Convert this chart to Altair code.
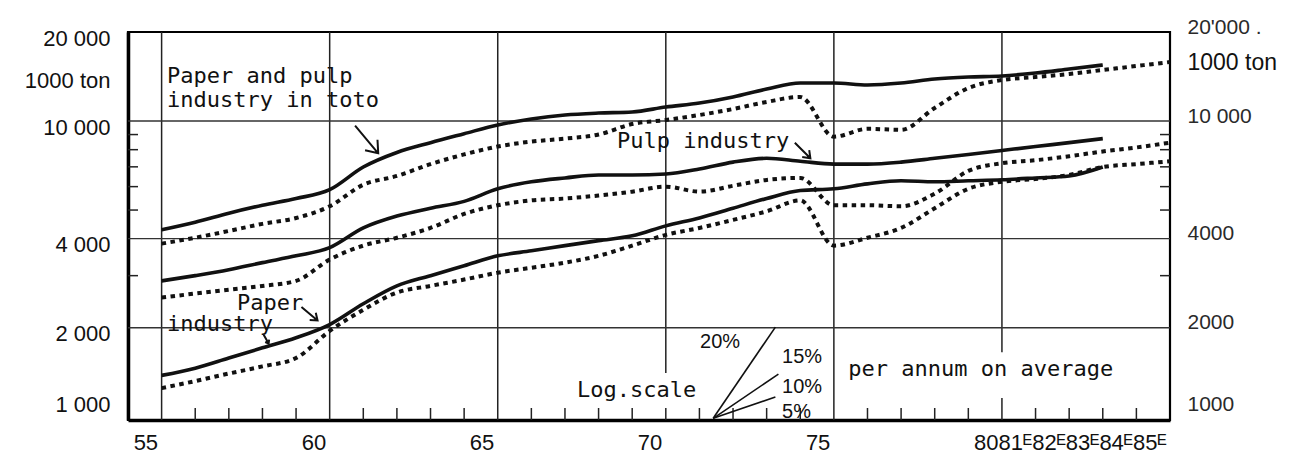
import altair as alt
import pandas as pd

# ---------------- data ----------------
years_full = list(range(55, 86))   # dotted series run 1955-1985E
years_prod = list(range(55, 84))   # solid series run 1955-1983E

total_solid = [4290, 4550, 4880, 5190, 5470, 5860, 6990, 7830, 8450, 9060,
               9700, 10160, 10480, 10640, 10730, 11150, 11500, 12060, 12830, 13440,
               13440, 13240, 13440, 13870, 14090, 14200, 14530, 14990, 15470]
total_dotted = [3850, 4030, 4250, 4490, 4700, 5150, 6090, 6520, 7150, 7710,
                8200, 8520, 8720, 9000, 9770, 10080, 10480, 10980, 11600, 12060,
                8850, 9410, 9340, 11070, 12930, 13760, 14090, 14420, 14880, 15350, 15830]
pulp_solid = [2880, 3000, 3140, 3320, 3500, 3730, 4350, 4770, 5070, 5350,
              5900, 6230, 6420, 6570, 6570, 6620, 6880, 7260, 7480, 7310,
              7150, 7150, 7260, 7480, 7710, 7950, 8200, 8450, 8720]
pulp_dotted = [2530, 2610, 2690, 2770, 2880, 3400, 3790, 4030, 4350, 4850,
               5190, 5390, 5470, 5600, 5770, 6000, 5770, 6040, 6320, 6420,
               5190, 5190, 5150, 5680, 6780, 7200, 7370, 7600, 7890, 8140, 8450]
paper_solid = [1380, 1460, 1580, 1710, 1850, 2050, 2410, 2770, 3000, 3240,
               3500, 3640, 3790, 3940, 4090, 4420, 4700, 5070, 5470, 5820,
               5900, 6130, 6280, 6230, 6280, 6330, 6420, 6520, 6990]
paper_dotted = [1250, 1320, 1400, 1480, 1580, 1950, 2300, 2630, 2770, 2910,
                3070, 3190, 3320, 3500, 3790, 4120, 4350, 4630, 4950, 5390,
                3790, 4030, 4350, 5070, 5900, 6230, 6370, 6570, 6990, 7150, 7310]

x_label_values = [55, 60, 65, 70, 75, 80, 81, 82, 83, 84, 85]
y_label_values = [1000, 2000, 4000, 10000, 20000]
# vertical grid segments (the 70 and 80 lines are broken around the notes)
grid_years = [55, 60, 65, 70, 75, 80, 80]
grid_tops = [20000, 20000, 20000, 20000, 20000, 20000, 1157]
grid_bottoms = [975, 975, 975, 1406, 975, 1652, 975]
grid_values = [2000, 4000, 10000]
minor_years = [56, 57, 58, 59, 61, 62, 63, 64, 66, 67, 68, 69, 70,
               71, 72, 73, 74, 76, 77, 78, 79, 81, 82, 83, 84]
minor_values = [3000, 5000, 6000, 7000, 8000, 9000]

note_texts = ["Paper and pulp", "industry in toto", "Pulp industry",
              "Paper", "industry", "Log.scale", "per annum on average"]
note_years = [55.16, 55.16, 68.55, 57.24, 55.16, 67.36, 75.43]
note_values = [13440, 11160, 8100, 2290, 1950, 1166, 1371]

pct_texts = ["20%", "15%", "10%", "5%"]
pct_years = [71.02, 73.46, 73.46, 73.46]
pct_values = [1707, 1518, 1202, 988]

rate_groups = ["20", "20", "10", "10", "5", "5"]
rate_years = [71.41, 73.26, 71.41, 73.35, 71.41, 73.26]
rate_values = [988, 2010, 988, 1394, 988, 1166]

arrow_years = [61.10, 74.07, 59.40, 58.11]
arrow_values = [8660, 7950, 2230, 1830]

# ---------------- tables ----------------
rows = []
for name, yrs, vals, style in [
    ("total", years_prod, total_solid, "solid"),
    ("pulp", years_prod, pulp_solid, "solid"),
    ("paper", years_prod, paper_solid, "solid"),
    ("total_d", years_full, total_dotted, "dotted"),
    ("pulp_d", years_full, pulp_dotted, "dotted"),
    ("paper_d", years_full, paper_dotted, "dotted"),
]:
    for yr, v in zip(yrs, vals):
        rows.append({"year": yr, "value": v, "series": name, "style": style})
df = pd.DataFrame(rows)

W, H = 1042, 388
xscale = alt.Scale(domain=[54, 85], nice=False, zero=False)
yscale = alt.Scale(type="log", domain=[975, 20000], nice=False)

SANS = "Liberation Sans"
MONO = "DejaVu Sans Mono"


def X(field="year"):
    return alt.X(f"{field}:Q", scale=xscale, axis=None)


def Y(field="value"):
    return alt.Y(f"{field}:Q", scale=yscale, axis=None)


# horizontal grid + left axis
left_axis = alt.Axis(
    orient="left", values=y_label_values,
    labelExpr="replace(format(datum.value, ','), ',', ' ')",
    labelFont=SANS, labelFontSize=22, labelColor="#111", labelPadding=18,
    labelOffset={"condition": {"test": "datum.value == 1000", "value": -12}, "value": 6},
    ticks=False, domain=True, domainColor="black", domainWidth=3.5, grid=False,
    title="1000 ton", titleAngle=0, titleX=-18, titleY=48, titleAlign="right",
    titleBaseline="middle", titleFont=SANS, titleFontSize=22, titleFontWeight="normal",
    titleColor="#111", labelOverlap=False, labelBound=False, labelFlush=False,
)
hgrid = alt.Chart(pd.DataFrame({"v": grid_values})).mark_rule(
    color="#333", strokeWidth=1.3
).encode(y=alt.Y("v:Q", scale=yscale, axis=left_axis))

# right axis (invisible marks)
right_axis = alt.Axis(
    orient="right", values=y_label_values,
    labelExpr="datum.value == 20000 ? \"20'000  .\" : (datum.value == 10000 ? '10 000' : format(datum.value, 'd'))",
    labelFont=SANS, labelFontSize=21, labelColor="#2a2a2a", labelPadding=17,
    labelOffset={"condition": {"test": "datum.value == 1000", "value": -12}, "value": -5},
    ticks=False, domain=False, grid=False,
    title="1000 ton", titleAngle=0, titleX=17, titleY=30, titleAlign="left",
    titleBaseline="middle", titleFont=SANS, titleFontSize=23, titleFontWeight="normal",
    titleColor="#111", labelOverlap=False, labelBound=False, labelFlush=False,
)
right = alt.Chart(pd.DataFrame({"v": y_label_values})).mark_point(opacity=0).encode(
    y=alt.Y("v:Q", scale=yscale, axis=right_axis)
)

# vertical grid + bottom axis
bottom_axis = alt.Axis(
    orient="bottom", values=x_label_values,
    labelExpr="datum.value > 80 ? datum.value + '\u1D31' : '' + datum.value",
    labelFont=SANS, labelFontSize=22, labelColor="#111",
    labelAlign="right", labelBaseline="alphabetic", labelPadding=29, labelOffset=-4,
    ticks=False, domain=True, domainColor="black", domainWidth=3.5, grid=False,
    title=None, labelOverlap=False, labelBound=False, labelFlush=False,
)
vgrid = alt.Chart(pd.DataFrame({"v": grid_years, "top": grid_tops, "bot": grid_bottoms})).mark_rule(
    color="#222", strokeWidth=1.5
).encode(
    x=alt.X("v:Q", scale=xscale, axis=bottom_axis),
    y=Y("top"), y2="bot:Q",
)

xminor = alt.Chart(pd.DataFrame({"v": minor_years})).mark_rule(
    color="#222", strokeWidth=1.5
).encode(x=alt.X("v:Q", scale=xscale, axis=None), y=alt.value(H - 12), y2=alt.value(H))

yminor_l = alt.Chart(pd.DataFrame({"v": minor_values})).mark_rule(
    color="#222", strokeWidth=1.5
).encode(y=alt.Y("v:Q", scale=yscale, axis=None), x=alt.value(0), x2=alt.value(10))

yminor_r = alt.Chart(pd.DataFrame({"v": minor_values})).mark_rule(
    color="#222", strokeWidth=1.5
).encode(y=alt.Y("v:Q", scale=yscale, axis=None), x=alt.value(W - 10), x2=alt.value(W))

solid = alt.Chart(df).transform_filter("datum.style == 'solid'").mark_line(
    color="#111", strokeWidth=3.6, interpolate="monotone", strokeJoin="round"
).encode(x=X(), y=Y(), detail="series:N")

dotted = alt.Chart(df).transform_filter("datum.style == 'dotted'").mark_line(
    color="#111", strokeWidth=4, strokeDash=[4.5, 4.5], strokeCap="butt",
    interpolate="monotone"
).encode(x=X(), y=Y(), detail="series:N")

rates = alt.Chart(pd.DataFrame({"g": rate_groups, "year": rate_years, "value": rate_values})).mark_line(
    color="#111", strokeWidth=1.6
).encode(x=X(), y=Y(), detail="g:N")

notes = alt.Chart(pd.DataFrame({"t": note_texts, "year": note_years, "value": note_values})).mark_text(
    font=MONO, fontSize=22, align="left", baseline="alphabetic", color="#111"
).encode(x=X(), y=Y(), text="t:N")

pcts = alt.Chart(pd.DataFrame({"t": pct_texts, "year": pct_years, "value": pct_values})).mark_text(
    font=SANS, fontSize=20, align="left", baseline="alphabetic", color="#111"
).encode(x=X(), y=Y(), text="t:N")

ARROW = "M-1,0L1,0M0.4,-0.45L1,0L0.4,0.45"
arrow_lengths = [36, 22, 21, 10]
arrow_angles = [50, 45, 40, 60]
arrows = []
for i in range(len(arrow_years)):
    arrows.append(
        alt.Chart(pd.DataFrame({"year": [arrow_years[i]], "value": [arrow_values[i]]})).mark_point(
            shape=ARROW, filled=False, stroke="#111", strokeWidth=2,
            size=arrow_lengths[i] ** 2, angle=arrow_angles[i], opacity=1
        ).encode(x=X(), y=Y())
    )

chart = alt.layer(
    vgrid, hgrid, right, xminor, yminor_l, yminor_r, rates, solid, dotted, notes, pcts, *arrows
).resolve_scale(x="shared", y="shared").resolve_axis(
    x="independent", y="independent"
).properties(
    width=W, height=H,
    padding={"left": 120, "top": 24, "right": 131, "bottom": 33},
    autosize=alt.AutoSizeParams(type="none"),
    background="white",
).configure_view(stroke="black", strokeWidth=2.2)

chart.save("out.html", embed_options={"renderer": "svg", "actions": False})
